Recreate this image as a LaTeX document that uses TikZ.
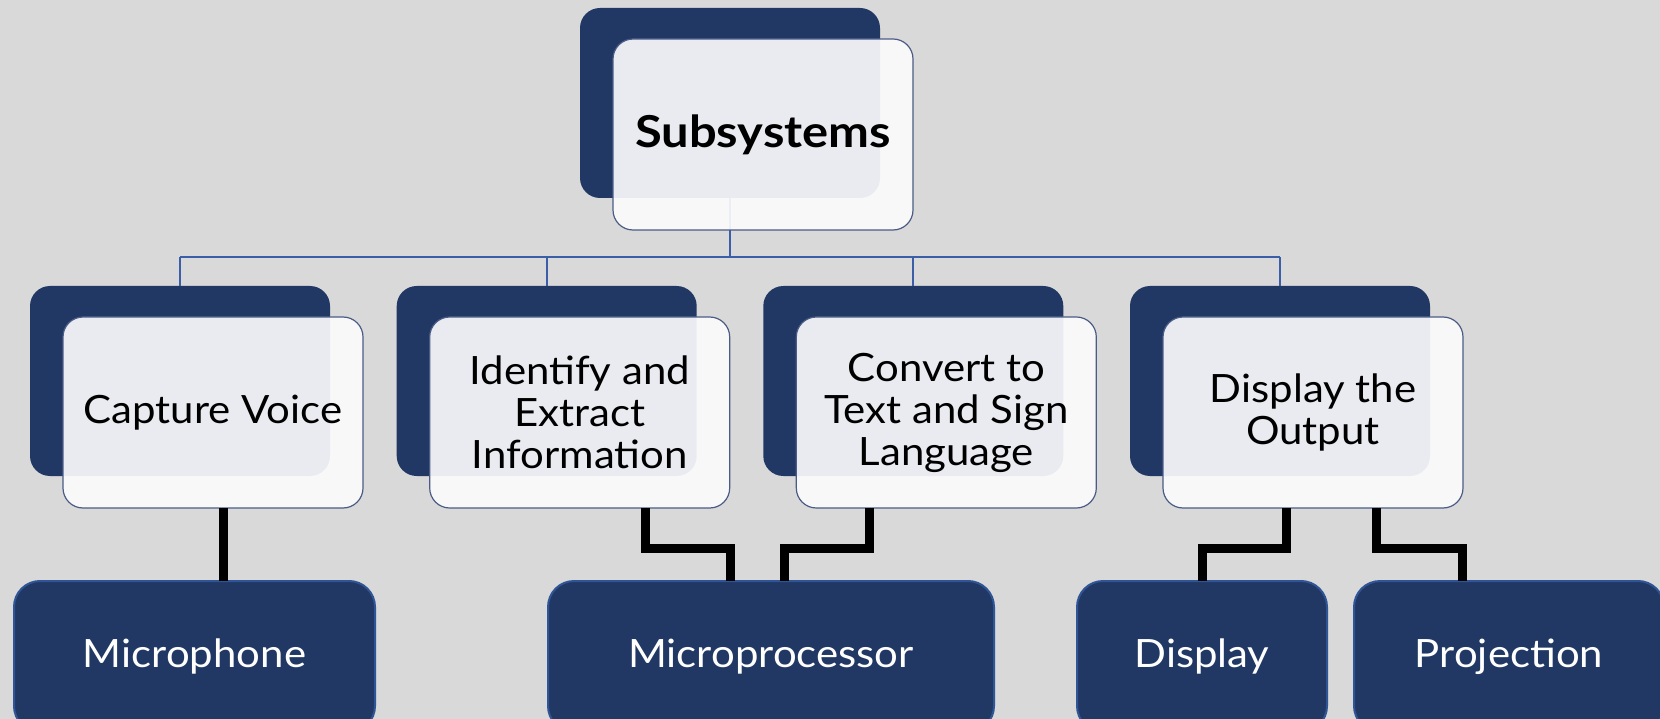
\documentclass[tikz,border=0pt]{standalone}
\usepackage{fontspec}
\setmainfont{Lato}[FakeStretch=1.075]
\newfontfamily\titlefont{Lato}[FakeStretch=1.11]
\usetikzlibrary{calc}
\definecolor{bg}{HTML}{D9D9D9}
\definecolor{navy}{HTML}{213864}
\definecolor{edgeblue}{HTML}{2F5597}
\definecolor{paleedge}{HTML}{4A5C86}
\definecolor{linkblue}{HTML}{3A5EA8}
\definecolor{paper}{HTML}{FBFBFC}
\begin{document}
\begin{tikzpicture}[x=1pt,y=-1pt,
  backcard/.style={fill=navy, rounded corners=20pt, minimum width=300pt,
    minimum height=190pt, inner sep=0pt, outer sep=0pt},
  frontcard/.style={draw=paleedge, line width=1.2pt, fill=paper, fill opacity=0.92,
    text opacity=1, rounded corners=20pt, minimum width=300pt, minimum height=191pt,
    inner sep=0pt, outer sep=0pt, align=center, text=black,
    font=\fontsize{39}{42}\selectfont},
  device/.style={draw=edgeblue, line width=2pt, fill=navy, rounded corners=26pt,
    minimum height=151pt, inner sep=0pt, outer sep=0pt, text=white,
    font=\fontsize{39}{42}\selectfont},
  tree/.style={draw=linkblue, line width=2pt},
  wire/.style={draw=black, line width=9pt, line join=miter}]

% canvas
\fill[bg] (0,0) rectangle (1660,719);
\useasboundingbox (0,0) rectangle (1660,719);
\clip (0,0) rectangle (1660,719);

% back cards
\node[backcard] (b0) at (730,103) {};
\node[backcard] (b1) at (180,381) {};
\node[backcard] (b2) at (546.7,381) {};
\node[backcard] (b3) at (913.3,381) {};
\node[backcard] (b4) at (1280,381) {};

% hierarchy lines
\coordinate (hub) at (730,257);
\draw[tree] (b0.south) -- (hub);
\draw[tree] (b1.north |- hub) -- (b4.north |- hub);
\foreach \c in {b1,b2,b3,b4} \draw[tree] (\c.north |- hub) -- (\c.north);

% front cards
\node[frontcard, font=\titlefont\bfseries\fontsize{44}{48}\selectfont] (f0) at (763,134.5) {Subsystems};
\node[frontcard] (f1) at (213,412.5) {Capture Voice};
\node[frontcard] (f2) at (579.7,412.5) {Identify and\\Extract\\Information};
\node[frontcard] (f3) at (946.3,412.5) {Convert to\\Text and Sign\\Language};
\node[frontcard] (f4) at (1313,412.5) {Display the\\Output};

% hardware blocks (lower edge runs past the canvas)
\node[device, minimum width=361pt] (mic) at (194.5,656.5) {Microphone};
\node[device, minimum width=446pt] (mp) at (771,656.5) {Microprocessor};
\node[device, minimum width=250pt] (disp) at (1202,656.5) {Display};
\node[device, minimum width=310pt] (proj) at (1509,656.5) {Projection};

% links to hardware
\draw[wire] ($(f1.south west)+(160,0)$) coordinate (w1) -- (w1 |- mic.north);
\draw[wire] ($(f2.south west)+(216,0)$) |- ($(mp.north west)+(182,-33)$) -- ($(mp.north west)+(182,0)$);
\draw[wire] ($(f3.south west)+(73,0)$) |- ($(mp.north west)+(236,-33)$) -- ($(mp.north west)+(236,0)$);
\draw[wire] ($(f4.south west)+(123,0)$) |- ($(disp.north)+(0,-33)$) -- (disp.north);
\draw[wire] ($(f4.south west)+(213,0)$) |- ($(proj.north west)+(108,-33)$) -- ($(proj.north west)+(108,0)$);
\end{tikzpicture}
\end{document}
